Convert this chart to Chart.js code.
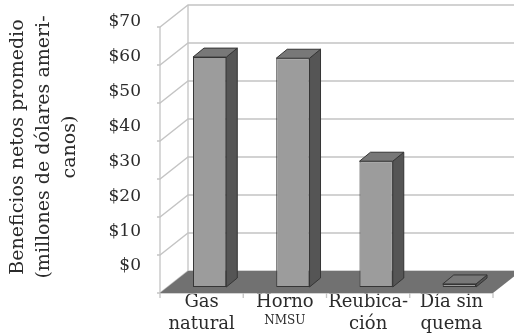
<!DOCTYPE html>
<html>
<head>
<meta charset="utf-8">
<script src="https://cdn.jsdelivr.net/npm/chart.js@4.4.0/dist/chart.umd.min.js"></script>
<style>
  html, body { margin: 0; padding: 0; background: #fff; }
  canvas { display: block; }
</style>
</head>
<body>
<canvas id="chart" width="514" height="335"></canvas>
<script>
var labelsLine1 = ['Gas', 'Horno', 'Reubica-', 'Día sin'];
var labelsLine2 = ['natural', 'NMSU', 'ción', 'quema'];
var values = [60.5, 60.2, 33.1, 0.8];
var tickValues = [0, 10, 20, 30, 40, 50, 60, 70];
var axisTitle = ['Beneficios netos promedio', '(millones de dólares ameri-', 'canos)'];

// 3d offsets, measured from the plane the bar fronts sit in
var FRONT = [-8, 6];
var BACK = [20, -16];
var DEPTH = [11, -9];
var SERIF = '"DejaVu Serif", serif';
var INK = '#2b2b2b';

// walls, gridlines and floor
var walls = {
  id: 'walls',
  afterLayout: function(chart) {
    // title sits a little above the middle of the axis
    chart.scales.yl.bottom -= 14;
  },
  beforeDatasetsDraw: function(chart) {
    var ctx = chart.ctx, a = chart.chartArea, y = chart.scales.y;
    var fl = a.left + FRONT[0], fr = a.right + FRONT[0];
    var bl = a.left + BACK[0], br = a.right + BACK[0];
    var top = y.getPixelForValue(70), zero = y.getPixelForValue(0);
    ctx.save();
    ctx.strokeStyle = '#c4c4c4';
    ctx.lineWidth = 1.3;
    tickValues.forEach(function(v) {
      var p = y.getPixelForValue(v);
      ctx.beginPath();
      ctx.moveTo(fl - 3, p + FRONT[1]);
      ctx.lineTo(fl, p + FRONT[1]);
      ctx.lineTo(bl, p + BACK[1]);
      ctx.lineTo(br, p + BACK[1]);
      ctx.stroke();
    });
    ctx.beginPath();
    ctx.moveTo(fl, top + FRONT[1]); ctx.lineTo(fl, zero + FRONT[1]);
    ctx.moveTo(bl, top + BACK[1]); ctx.lineTo(bl, zero + BACK[1]);
    ctx.stroke();

    // category axis under the floor
    var step = (a.right - a.left) / labelsLine1.length;
    ctx.beginPath();
    ctx.moveTo(fl, zero + FRONT[1]); ctx.lineTo(fr, zero + FRONT[1]);
    for (var i = 0; i <= labelsLine1.length; i++) {
      var bx = fl + i * step;
      ctx.moveTo(bx, zero + FRONT[1]); ctx.lineTo(bx, zero + FRONT[1] + 5);
    }
    ctx.stroke();

    ctx.fillStyle = '#717171';
    ctx.beginPath();
    ctx.moveTo(fl, zero + FRONT[1]);
    ctx.lineTo(fr, zero + FRONT[1]);
    ctx.lineTo(br, zero + BACK[1]);
    ctx.lineTo(bl, zero + BACK[1]);
    ctx.closePath();
    ctx.fill();
    ctx.restore();
  }
};

// side and top faces of the bars
var boxes = {
  id: 'boxes',
  afterDatasetsDraw: function(chart) {
    var ctx = chart.ctx;
    ctx.save();
    ctx.strokeStyle = '#353535';
    ctx.lineWidth = 1;
    ctx.lineJoin = 'round';
    chart.getDatasetMeta(0).data.forEach(function(bar) {
      var l = bar.x - bar.width / 2, r = bar.x + bar.width / 2;
      var t = bar.y, b = bar.base;
      ctx.fillStyle = '#555555';
      ctx.beginPath();
      ctx.moveTo(r, t);
      ctx.lineTo(r + DEPTH[0], t + DEPTH[1]);
      ctx.lineTo(r + DEPTH[0], b + DEPTH[1]);
      ctx.lineTo(r, b);
      ctx.closePath();
      ctx.fill(); ctx.stroke();
      ctx.fillStyle = '#787878';
      ctx.beginPath();
      ctx.moveTo(l, t);
      ctx.lineTo(l + DEPTH[0], t + DEPTH[1]);
      ctx.lineTo(r + DEPTH[0], t + DEPTH[1]);
      ctx.lineTo(r, t);
      ctx.closePath();
      ctx.fill(); ctx.stroke();
    });
    ctx.restore();
  }
};

function noSidePadding(s) {
  s.paddingLeft = 0;
  s.paddingRight = 0;
}

new Chart(document.getElementById('chart'), {
  type: 'bar',
  data: {
    labels: labelsLine1,
    datasets: [{
      data: values,
      backgroundColor: '#9c9c9c',
      borderColor: '#353535',
      borderWidth: 1,
      borderSkipped: false,
      barPercentage: 0.4,
      categoryPercentage: 1
    }]
  },
  options: {
    responsive: false,
    animation: false,
    layout: { padding: { top: 21, right: 13, bottom: 0, left: 0 } },
    plugins: { legend: { display: false }, tooltip: { enabled: false } },
    scales: {
      x: {
        grid: { display: false, drawTicks: false },
        border: { display: false },
        afterFit: function(s) { s.height = 24; noSidePadding(s); },
        ticks: {
          autoSkip: false, maxRotation: 0, padding: 5, labelOffset: -8,
          color: INK, font: { family: SERIF, size: 18 }
        }
      },
      x2: {
        type: 'category',
        labels: labelsLine2,
        offset: true,
        position: 'bottom',
        grid: { display: false, drawTicks: false },
        border: { display: false },
        afterFit: function(s) { s.height = 24; noSidePadding(s); },
        ticks: {
          autoSkip: false, maxRotation: 0, padding: 3, labelOffset: -8,
          color: INK,
          font: function(c) { return { family: SERIF, size: c.index === 1 ? 12 : 18 }; }
        }
      },
      y: {
        display: false,
        min: 0,
        max: 70
      },
      yl: {
        position: 'left',
        min: -6.02,
        max: 70.29,
        grid: { display: false, drawTicks: false },
        border: { display: false },
        afterFit: function(s) {
          s.width = 168;
          s.paddingTop = 0;
          s.paddingBottom = 0;
        },
        afterBuildTicks: function(s) {
          s.ticks = tickValues.map(function(v) { return { value: v }; });
        },
        ticks: {
          padding: 27,
          color: INK,
          font: { family: SERIF, size: 17 },
          callback: function(v) { return '$' + v; }
        },
        title: {
          display: true,
          text: axisTitle,
          color: INK,
          padding: { top: 5, bottom: 0 },
          font: { family: SERIF, size: 19, lineHeight: 1.37 }
        }
      }
    }
  },
  plugins: [walls, boxes]
});
</script>
</body>
</html>
